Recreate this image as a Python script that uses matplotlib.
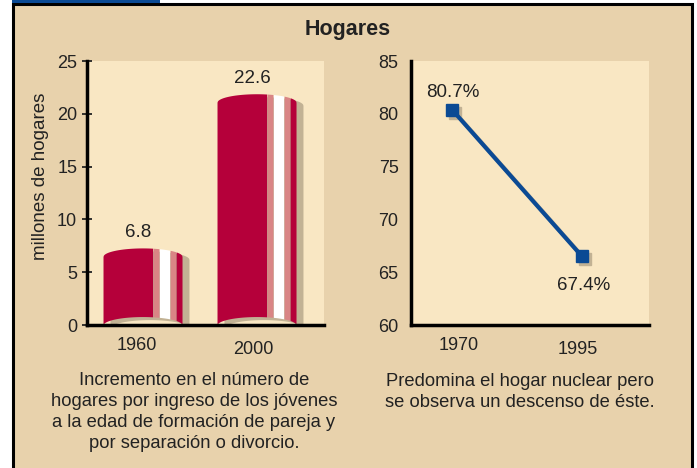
import numpy as np
import matplotlib
matplotlib.use("Agg")
import matplotlib.pyplot as plt
from matplotlib.patches import Rectangle
from matplotlib.transforms import offset_copy, blended_transform_factory

plt.rcParams['font.family'] = ['Liberation Sans', 'DejaVu Sans']

# datos
anios_hog = ["1960", "2000"]
hogares = [6.5, 21.1]          # altura de la barra (borde lateral), millones
hogares_txt = ["6.8", "22.6"]

anios_nuc = ["1970", "1995"]
nuclear = [80.4, 66.5]         # % hogar nuclear
nuclear_txt = ["80.7%", "67.4%"]

W, H = 697, 468
fondo = "#e8d2ac"
area = "#f9e7c3"
carmin = "#b5003a"
rosa = "#d98585"
sombra = "#c2b294"
azul = "#0b4a94"

def fx(px):
    return px / W

def fy(py):
    return 1 - py / H

fig = plt.figure(figsize=(W / 100, H / 100), dpi=100, facecolor="white")

# marco y pestaña azul
fig.patches.append(Rectangle((fx(13), -0.02), fx(692) - fx(13), fy(4) + 0.02,
                             transform=fig.transFigure, facecolor=fondo,
                             edgecolor="black", linewidth=2.2, zorder=-2))
fig.patches.append(Rectangle((fx(12), fy(3)), fx(160) - fx(12), 3 / H,
                             transform=fig.transFigure, facecolor=azul,
                             edgecolor="none", zorder=-1))

fig.text(fx(348), fy(30), "Hogares", ha="center", va="center",
         fontsize=15.5, fontweight="bold", color="#222222")

# ---------- barras ----------
ax1 = fig.add_axes([fx(87), fy(325), fx(324) - fx(87), (325 - 61) / H])
ax1.set_facecolor(area)
ax1.set_xlim(-0.487, 1.592)
ax1.set_ylim(0, 25)
ax1.set_yticks([0, 5, 10, 15, 20, 25])
ax1.set_xticks([])
for s in ["top", "right"]:
    ax1.spines[s].set_visible(False)
for s in ["left", "bottom"]:
    ax1.spines[s].set_linewidth(2.5)
    ax1.spines[s].set_zorder(5)
ax1.tick_params(axis="y", direction="inout", length=7.2, width=1.3,
                labelsize=13, pad=3.5, colors="#222222")
ax1.set_ylabel("millones de hogares", fontsize=13.5, color="#222222")
ax1.yaxis.set_label_coords(-0.16, 0.564)

w = 0.693
k = 0.8
franjas = [(0.0, 0.633, carmin), (0.633, 0.709, rosa), (0.709, 0.848, "white"),
           (0.848, 0.924, rosa), (0.924, 1.0, carmin)]
for i, h in enumerate(hogares):
    x0 = i - w / 2
    xs = np.linspace(x0, x0 + w, 200)
    arco = k * np.sqrt(np.clip(1 - ((xs - i) / (w / 2)) ** 2, 0, 1))
    # sombra
    ax1.fill_between(xs + 0.061, arco - 0.29, h + arco - 0.29, color=sombra,
                     linewidth=0, zorder=1)
    for a, b, c in franjas:
        m = (xs >= x0 + a * w - 1e-9) & (xs <= x0 + b * w + 1e-9)
        ax1.fill_between(xs[m], arco[m], h + arco[m], color=c,
                         linewidth=0, zorder=2)
    ax1.annotate(hogares_txt[i], (i, h + k), xytext=(-4, 15),
                 textcoords="offset pixels", ha="center", va="center",
                 fontsize=13.5, color="#222222")

tr1 = blended_transform_factory(ax1.transData, ax1.transAxes)
for i, lab in enumerate(anios_hog):
    ax1.text(i - 0.05 + 0.02 * i, -(20 + 5 * i) / 264, lab, transform=tr1,
             ha="center", va="center", fontsize=13, color="#222222")

# ---------- linea ----------
ax2 = fig.add_axes([fx(411), fy(325), fx(649) - fx(411), (325 - 61) / H])
ax2.set_facecolor(area)
ax2.set_xlim(-0.315, 1.515)
ax2.set_ylim(60, 85)
ax2.set_yticks([60, 65, 70, 75, 80, 85])
ax2.set_yticks([80], minor=True)
ax2.set_xticks([])
for s in ["top", "right"]:
    ax2.spines[s].set_visible(False)
for s in ["left", "bottom"]:
    ax2.spines[s].set_linewidth(2.5)
    ax2.spines[s].set_zorder(5)
ax2.tick_params(axis="y", which="major", length=0, labelsize=13, pad=9,
                colors="#222222")
ax2.tick_params(axis="y", which="minor", direction="inout", length=9, width=1.2)

xs2 = np.arange(len(nuclear))
sh = offset_copy(ax2.transData, fig=fig, x=3, y=-3, units="dots")
ax2.plot(xs2, nuclear, color=sombra, lw=3, marker="s", ms=8,
         transform=sh, zorder=2)
ax2.plot(xs2, nuclear, color=azul, lw=3, marker="s", ms=8, zorder=3)
ax2.annotate(nuclear_txt[0], (0, nuclear[0]), xytext=(1, 17),
             textcoords="offset pixels", ha="center", va="center",
             fontsize=13.5, color="#222222")
ax2.annotate(nuclear_txt[1], (1, nuclear[1]), xytext=(2, -29),
             textcoords="offset pixels", ha="center", va="center",
             fontsize=13.5, color="#222222")

tr2 = blended_transform_factory(ax2.transData, ax2.transAxes)
for i, lab in enumerate(anios_nuc):
    ax2.text(i + 0.05 - 0.08 * i, -(20 + 5 * i) / 264, lab, transform=tr2,
             ha="center", va="center", fontsize=13, color="#222222")

# textos al pie
fig.text(fx(194), fy(412),
         "Incremento en el número de\nhogares por ingreso de los jóvenes\n"
         "a la edad de formación de pareja y\npor separación o divorcio.",
         ha="center", va="center", fontsize=13.2, linespacing=1.33,
         color="#222222")
fig.text(fx(520), fy(392),
         "Predomina el hogar nuclear pero\nse observa un descenso de éste.",
         ha="center", va="center", fontsize=13.2, linespacing=1.33,
         color="#222222")

fig.savefig("out.png", dpi=100, facecolor=fig.get_facecolor())
